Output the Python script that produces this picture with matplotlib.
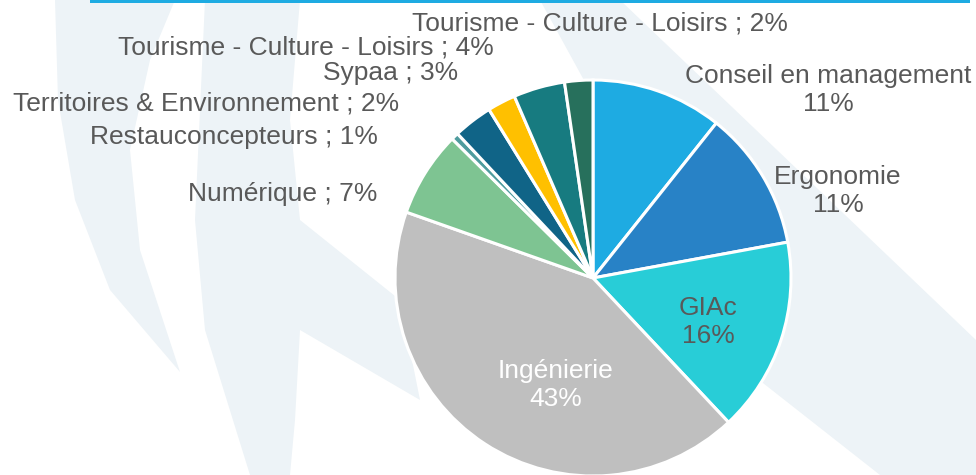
import matplotlib.pyplot as plt
from matplotlib.patches import Polygon, Rectangle

# parts des activités (lecture du graphique)
activites = ['Conseil en management', 'Ergonomie', 'GIAc', 'Ingénierie', 'Numérique',
             'Restauconcepteurs', 'Territoires & Environnement', 'Sypaa',
             'Tourisme - Culture - Loisirs', 'Tourisme - Culture - Loisirs']
parts = [10.7, 11.4, 15.9, 42.4, 7.0, 0.6, 3.2, 2.3, 4.2, 2.3]
pct_affiches = [11, 11, 16, 43, 7, 1, 2, 3, 4, 2]
couleurs = ['#1EABE2', '#2882C6', '#28CDD7', '#BFBFBF', '#7EC492',
            '#4F9C9E', '#106487', '#FFC000', '#177B80', '#27705C']

# position des étiquettes (pixels) et style
pos_labels = [(828, 90), (838, 191), (708, 322), (556, 385), (283, 194),
              (234, 137), (206, 104), (391, 73), (306, 48), (600, 24)]
sur_deux_lignes = [True, True, True, True, False, False, False, False, False, False]
couleur_texte = ['#595959'] * 10
couleur_texte[3] = 'white'

plt.rcParams['font.family'] = ['Liberation Sans', 'DejaVu Sans']

W, H = 976, 475
fig = plt.figure(figsize=(W / 100, H / 100), dpi=100)
ax = fig.add_axes([0, 0, 1, 1])
ax.set_xlim(0, W)
ax.set_ylim(H, 0)
ax.axis('off')

# filigrane en fond
fond = '#EDF3F7'
formes = [
    [(55, 0), (175, 0), (150, 60), (130, 150), (140, 250), (180, 372),
     (110, 290), (75, 200), (58, 100)],
    [(205, 0), (300, 0), (290, 120), (300, 220), (400, 300), (420, 400),
     (300, 330), (295, 420), (290, 475), (250, 475), (205, 330), (195, 220)],
    [(540, 0), (620, 0), (976, 340), (976, 475), (880, 475), (740, 365)],
]
for f in formes:
    ax.add_patch(Polygon(f, closed=True, facecolor=fond, edgecolor='none', zorder=0))

# trait bleu en haut
ax.add_patch(Rectangle((90, 0), 880, 3, facecolor='#1EABE2', edgecolor='none', zorder=1))

# camembert : axe y inversé => startangle -90 et sens trigo pour tourner dans le sens horaire
ax.pie(parts, colors=couleurs, startangle=-90, counterclock=True,
       center=(593, 278), radius=198, frame=True,
       wedgeprops=dict(edgecolor='white', linewidth=2.2))
ax.set_xlim(0, W)
ax.set_ylim(H, 0)
ax.axis('off')

for nom, p, (x, y), deux, c in zip(activites, pct_affiches, pos_labels, sur_deux_lignes, couleur_texte):
    txt = f'{nom}\n{p}%' if deux else f'{nom} ; {p}%'
    ax.text(x, y, txt, ha='center', va='center', fontsize=19, color=c,
            linespacing=1.22, zorder=5)

fig.savefig('out.png', dpi=100, facecolor='white')
